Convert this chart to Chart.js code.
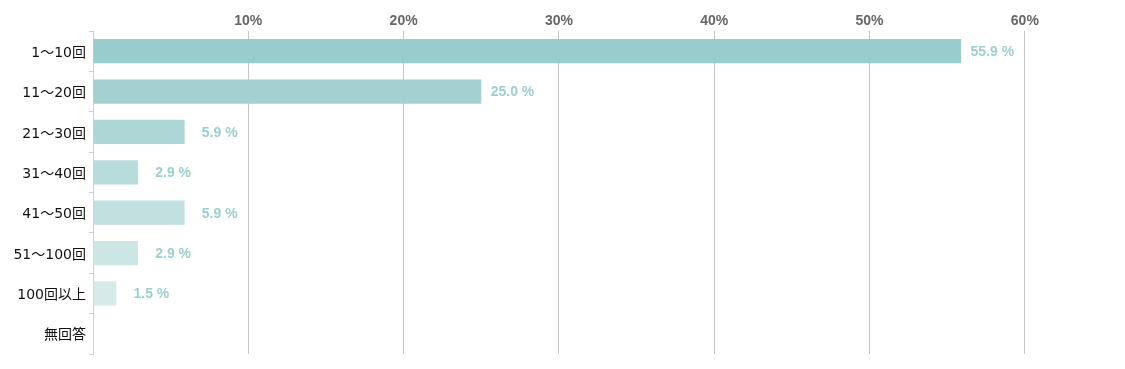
<!DOCTYPE html>
<html>
<head>
<meta charset="utf-8">
<script src="https://cdn.jsdelivr.net/npm/chart.js@4"></script>
<style>
  html, body { margin: 0; padding: 0; background: #fff; }
  #wrap { width: 1125px; height: 369px; position: relative; }
</style>
</head>
<body>
<div id="wrap"><canvas id="chart"></canvas></div>
<script>
// 回数ごとの割合
const categories = ['1～10回', '11～20回', '21～30回', '31～40回', '41～50回', '51～100回', '100回以上', '無回答'];
const values = [55.9, 25.0, 5.9, 2.9, 5.9, 2.9, 1.5, null];
const barColors = ['#99cccc', '#a3d1d1', '#aed6d6', '#b8dbdb', '#c2e0e0', '#cce5e5', '#d6eaea', '#e0efef'];
const tickValues = [10, 20, 30, 40, 50, 60];

// バーの右に値を表示（右寄せ）
const valueLabels = {
    id: 'valueLabels',
    afterDatasetsDraw(chart) {
        const ctx = chart.ctx;
        const meta = chart.getDatasetMeta(0);
        ctx.save();
        ctx.font = 'bold 14px "Liberation Sans", Arial, sans-serif';
        ctx.fillStyle = '#9dcfcf';
        ctx.textAlign = 'right';
        ctx.textBaseline = 'middle';
        meta.data.forEach((bar, i) => {
            if (values[i] == null) return;
            ctx.fillText(values[i].toFixed(1) + ' %', bar.x + 53, bar.y + 1);
        });
        ctx.restore();
    }
};

const ctx = document.getElementById('chart').getContext('2d');
const chart = new Chart(ctx, {
    type: 'bar',
    data: {
        labels: categories,
        datasets: [{
            data: values,
            backgroundColor: barColors,
            borderWidth: 0,
            barPercentage: 0.6,
            categoryPercentage: 1.0
        }]
    },
    options: {
        indexAxis: 'y',
        responsive: true,
        maintainAspectRatio: false,
        animation: false,
        layout: { padding: { top: 0, right: 7, bottom: 15, left: 0 } },
        plugins: {
            legend: { display: false },
            tooltip: { enabled: false }
        },
        scales: {
            x: {
                position: 'top',
                min: 0,
                max: 66,
                afterFit: function(scale) { scale.height = 31; },
                afterBuildTicks: function(scale) {
                    scale.ticks = [0].concat(tickValues).map(v => ({ value: v }));
                },
                border: { display: false },
                grid: {
                    drawTicks: false,
                    color: function(c) { return c.tick && c.tick.value === 0 ? 'rgba(0,0,0,0)' : '#c4c4c4'; },
                    lineWidth: 1
                },
                ticks: {
                    padding: 1,
                    color: '#666666',
                    font: { family: '"Liberation Sans", Arial, sans-serif', size: 14, weight: 'bold' },
                    callback: function(v) { return v === 0 ? '' : v + '%'; }
                }
            },
            y: {
                afterFit: function(scale) { scale.width = 93; },
                border: { display: true, color: '#c5d0e0', width: 1 },
                grid: {
                    drawOnChartArea: false,
                    drawTicks: true,
                    tickLength: 4,
                    color: '#c5d0e0'
                },
                ticks: {
                    padding: 3,
                    labelOffset: 2,
                    color: '#111111',
                    font: { family: '"DejaVu Sans", "Noto Sans CJK JP", sans-serif', size: 14 }
                }
            }
        }
    },
    plugins: [valueLabels]
});
</script>
</body>
</html>
